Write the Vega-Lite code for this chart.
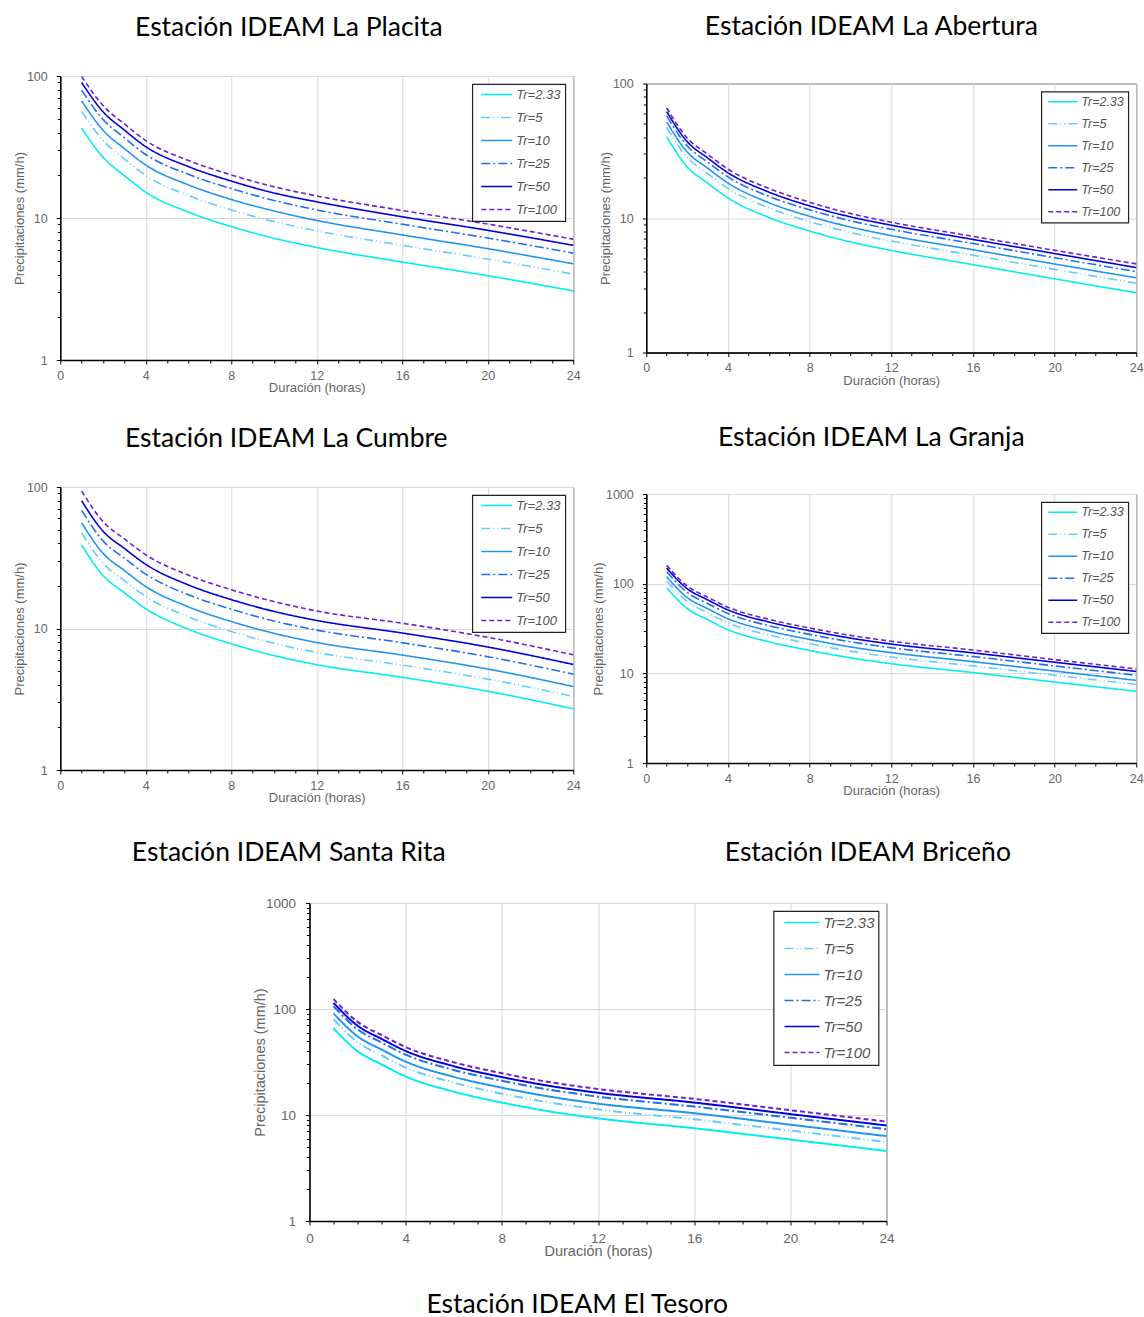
{
"$schema":"https://vega.github.io/schema/vega-lite/v6.json",
"background":"white",
"padding":{"left":12,"top":13,"right":0,"bottom":0},
"spacing":28,
"center":true,
"resolve":{"scale":{"color":"independent","strokeDash":"independent"},"legend":{"color":"independent","strokeDash":"independent"}},
"datasets":{
"p1":[
{"d":1,"t":"Tr=2.33","p":43},{"d":1,"t":"Tr=5","p":56.3},{"d":1,"t":"Tr=10","p":66.7},{"d":1,"t":"Tr=25","p":79.3},{"d":1,"t":"Tr=50","p":89.9},{"d":1,"t":"Tr=100","p":99.3},
{"d":2,"t":"Tr=2.33","p":26.8},{"d":2,"t":"Tr=5","p":35.1},{"d":2,"t":"Tr=10","p":41.5},{"d":2,"t":"Tr=25","p":49.4},{"d":2,"t":"Tr=50","p":56.0},{"d":2,"t":"Tr=100","p":61.9},
{"d":3,"t":"Tr=2.33","p":19.9},{"d":3,"t":"Tr=5","p":26.1},{"d":3,"t":"Tr=10","p":30.8},{"d":3,"t":"Tr=25","p":36.7},{"d":3,"t":"Tr=50","p":41.6},{"d":3,"t":"Tr=100","p":46.0},
{"d":4,"t":"Tr=2.33","p":15.2},{"d":4,"t":"Tr=5","p":19.9},{"d":4,"t":"Tr=10","p":23.6},{"d":4,"t":"Tr=25","p":28.0},{"d":4,"t":"Tr=50","p":31.8},{"d":4,"t":"Tr=100","p":35.1},
{"d":6,"t":"Tr=2.33","p":11.0},{"d":6,"t":"Tr=5","p":14.4},{"d":6,"t":"Tr=10","p":17.1},{"d":6,"t":"Tr=25","p":20.3},{"d":6,"t":"Tr=50","p":23.0},{"d":6,"t":"Tr=100","p":25.4},
{"d":8,"t":"Tr=2.33","p":8.7},{"d":8,"t":"Tr=5","p":11.4},{"d":8,"t":"Tr=10","p":13.5},{"d":8,"t":"Tr=25","p":16.1},{"d":8,"t":"Tr=50","p":18.2},{"d":8,"t":"Tr=100","p":20.1},
{"d":10,"t":"Tr=2.33","p":7.2},{"d":10,"t":"Tr=5","p":9.43},{"d":10,"t":"Tr=10","p":11.2},{"d":10,"t":"Tr=25","p":13.3},{"d":10,"t":"Tr=50","p":15.0},{"d":10,"t":"Tr=100","p":16.6},
{"d":12,"t":"Tr=2.33","p":6.2},{"d":12,"t":"Tr=5","p":8.12},{"d":12,"t":"Tr=10","p":9.61},{"d":12,"t":"Tr=25","p":11.4},{"d":12,"t":"Tr=50","p":13.0},{"d":12,"t":"Tr=100","p":14.3},
{"d":16,"t":"Tr=2.33","p":4.9},{"d":16,"t":"Tr=5","p":6.42},{"d":16,"t":"Tr=10","p":7.6},{"d":16,"t":"Tr=25","p":9.04},{"d":16,"t":"Tr=50","p":10.2},{"d":16,"t":"Tr=100","p":11.3},
{"d":20,"t":"Tr=2.33","p":3.92},{"d":20,"t":"Tr=5","p":5.14},{"d":20,"t":"Tr=10","p":6.08},{"d":20,"t":"Tr=25","p":7.23},{"d":20,"t":"Tr=50","p":8.19},{"d":20,"t":"Tr=100","p":9.06},
{"d":24,"t":"Tr=2.33","p":3.07},{"d":24,"t":"Tr=5","p":4.02},{"d":24,"t":"Tr=10","p":4.76},{"d":24,"t":"Tr=25","p":5.66},{"d":24,"t":"Tr=50","p":6.42},{"d":24,"t":"Tr=100","p":7.09}
],
"p2":[
{"d":1,"t":"Tr=2.33","p":40.1},{"d":1,"t":"Tr=5","p":47.1},{"d":1,"t":"Tr=10","p":51.7},{"d":1,"t":"Tr=25","p":57.5},{"d":1,"t":"Tr=50","p":61.8},{"d":1,"t":"Tr=100","p":65.8},
{"d":2,"t":"Tr=2.33","p":24.0},{"d":2,"t":"Tr=5","p":28.2},{"d":2,"t":"Tr=10","p":31.0},{"d":2,"t":"Tr=25","p":34.4},{"d":2,"t":"Tr=50","p":37.0},{"d":2,"t":"Tr=100","p":39.4},
{"d":3,"t":"Tr=2.33","p":18.2},{"d":3,"t":"Tr=5","p":21.4},{"d":3,"t":"Tr=10","p":23.5},{"d":3,"t":"Tr=25","p":26.1},{"d":3,"t":"Tr=50","p":28.0},{"d":3,"t":"Tr=100","p":29.8},
{"d":4,"t":"Tr=2.33","p":14.1},{"d":4,"t":"Tr=5","p":16.6},{"d":4,"t":"Tr=10","p":18.2},{"d":4,"t":"Tr=25","p":20.2},{"d":4,"t":"Tr=50","p":21.7},{"d":4,"t":"Tr=100","p":23.1},
{"d":6,"t":"Tr=2.33","p":10.1},{"d":6,"t":"Tr=5","p":11.9},{"d":6,"t":"Tr=10","p":13.0},{"d":6,"t":"Tr=25","p":14.5},{"d":6,"t":"Tr=50","p":15.6},{"d":6,"t":"Tr=100","p":16.6},
{"d":8,"t":"Tr=2.33","p":8.0},{"d":8,"t":"Tr=5","p":9.4},{"d":8,"t":"Tr=10","p":10.3},{"d":8,"t":"Tr=25","p":11.5},{"d":8,"t":"Tr=50","p":12.3},{"d":8,"t":"Tr=100","p":13.1},
{"d":10,"t":"Tr=2.33","p":6.64},{"d":10,"t":"Tr=5","p":7.8},{"d":10,"t":"Tr=10","p":8.57},{"d":10,"t":"Tr=25","p":9.53},{"d":10,"t":"Tr=50","p":10.2},{"d":10,"t":"Tr=100","p":10.8},
{"d":12,"t":"Tr=2.33","p":5.74},{"d":12,"t":"Tr=5","p":6.74},{"d":12,"t":"Tr=10","p":7.4},{"d":12,"t":"Tr=25","p":8.24},{"d":12,"t":"Tr=50","p":8.84},{"d":12,"t":"Tr=100","p":9.3},
{"d":16,"t":"Tr=2.33","p":4.5},{"d":16,"t":"Tr=5","p":5.29},{"d":16,"t":"Tr=10","p":5.81},{"d":16,"t":"Tr=25","p":6.46},{"d":16,"t":"Tr=50","p":6.93},{"d":16,"t":"Tr=100","p":7.3},
{"d":20,"t":"Tr=2.33","p":3.53},{"d":20,"t":"Tr=5","p":4.15},{"d":20,"t":"Tr=10","p":4.55},{"d":20,"t":"Tr=25","p":5.07},{"d":20,"t":"Tr=50","p":5.44},{"d":20,"t":"Tr=100","p":5.75},
{"d":24,"t":"Tr=2.33","p":2.78},{"d":24,"t":"Tr=5","p":3.27},{"d":24,"t":"Tr=10","p":3.59},{"d":24,"t":"Tr=25","p":3.99},{"d":24,"t":"Tr=50","p":4.28},{"d":24,"t":"Tr=100","p":4.56}
],
"p3":[
{"d":1,"t":"Tr=2.33","p":38.9},{"d":1,"t":"Tr=5","p":47.5},{"d":1,"t":"Tr=10","p":55.8},{"d":1,"t":"Tr=25","p":68.3},{"d":1,"t":"Tr=50","p":79.9},{"d":1,"t":"Tr=100","p":93.6},
{"d":2,"t":"Tr=2.33","p":23.7},{"d":2,"t":"Tr=5","p":28.9},{"d":2,"t":"Tr=10","p":34.0},{"d":2,"t":"Tr=25","p":41.6},{"d":2,"t":"Tr=50","p":48.7},{"d":2,"t":"Tr=100","p":57.0},
{"d":3,"t":"Tr=2.33","p":17.9},{"d":3,"t":"Tr=5","p":21.8},{"d":3,"t":"Tr=10","p":25.7},{"d":3,"t":"Tr=25","p":31.4},{"d":3,"t":"Tr=50","p":36.8},{"d":3,"t":"Tr=100","p":43.0},
{"d":4,"t":"Tr=2.33","p":13.8},{"d":4,"t":"Tr=5","p":16.8},{"d":4,"t":"Tr=10","p":19.8},{"d":4,"t":"Tr=25","p":24.2},{"d":4,"t":"Tr=50","p":28.4},{"d":4,"t":"Tr=100","p":33.2},
{"d":6,"t":"Tr=2.33","p":9.88},{"d":6,"t":"Tr=5","p":12.1},{"d":6,"t":"Tr=10","p":14.2},{"d":6,"t":"Tr=25","p":17.3},{"d":6,"t":"Tr=50","p":20.3},{"d":6,"t":"Tr=100","p":23.8},
{"d":8,"t":"Tr=2.33","p":7.8},{"d":8,"t":"Tr=5","p":9.52},{"d":8,"t":"Tr=10","p":11.2},{"d":8,"t":"Tr=25","p":13.7},{"d":8,"t":"Tr=50","p":16.0},{"d":8,"t":"Tr=100","p":18.8},
{"d":10,"t":"Tr=2.33","p":6.44},{"d":10,"t":"Tr=5","p":7.86},{"d":10,"t":"Tr=10","p":9.24},{"d":10,"t":"Tr=25","p":11.3},{"d":10,"t":"Tr=50","p":13.2},{"d":10,"t":"Tr=100","p":15.5},
{"d":12,"t":"Tr=2.33","p":5.55},{"d":12,"t":"Tr=5","p":6.77},{"d":12,"t":"Tr=10","p":7.96},{"d":12,"t":"Tr=25","p":9.74},{"d":12,"t":"Tr=50","p":11.4},{"d":12,"t":"Tr=100","p":13.3},
{"d":16,"t":"Tr=2.33","p":4.52},{"d":16,"t":"Tr=5","p":5.51},{"d":16,"t":"Tr=10","p":6.49},{"d":16,"t":"Tr=25","p":7.93},{"d":16,"t":"Tr=50","p":9.29},{"d":16,"t":"Tr=100","p":10.9},
{"d":20,"t":"Tr=2.33","p":3.6},{"d":20,"t":"Tr=5","p":4.39},{"d":20,"t":"Tr=10","p":5.17},{"d":20,"t":"Tr=25","p":6.32},{"d":20,"t":"Tr=50","p":7.4},{"d":20,"t":"Tr=100","p":8.66},
{"d":24,"t":"Tr=2.33","p":2.71},{"d":24,"t":"Tr=5","p":3.31},{"d":24,"t":"Tr=10","p":3.89},{"d":24,"t":"Tr=25","p":4.76},{"d":24,"t":"Tr=50","p":5.57},{"d":24,"t":"Tr=100","p":6.52}
],
"p4":[
{"d":1,"t":"Tr=2.33","p":90},{"d":1,"t":"Tr=5","p":107},{"d":1,"t":"Tr=10","p":119},{"d":1,"t":"Tr=25","p":136},{"d":1,"t":"Tr=50","p":149},{"d":1,"t":"Tr=100","p":160},
{"d":2,"t":"Tr=2.33","p":53},{"d":2,"t":"Tr=5","p":63.1},{"d":2,"t":"Tr=10","p":70.2},{"d":2,"t":"Tr=25","p":80.0},{"d":2,"t":"Tr=50","p":88.0},{"d":2,"t":"Tr=100","p":94.3},
{"d":3,"t":"Tr=2.33","p":39.8},{"d":3,"t":"Tr=5","p":47.4},{"d":3,"t":"Tr=10","p":52.7},{"d":3,"t":"Tr=25","p":60.1},{"d":3,"t":"Tr=50","p":66.1},{"d":3,"t":"Tr=100","p":70.8},
{"d":4,"t":"Tr=2.33","p":30.7},{"d":4,"t":"Tr=5","p":36.5},{"d":4,"t":"Tr=10","p":40.7},{"d":4,"t":"Tr=25","p":46.4},{"d":4,"t":"Tr=50","p":51.0},{"d":4,"t":"Tr=100","p":54.6},
{"d":6,"t":"Tr=2.33","p":22.5},{"d":6,"t":"Tr=5","p":26.8},{"d":6,"t":"Tr=10","p":29.8},{"d":6,"t":"Tr=25","p":34.0},{"d":6,"t":"Tr=50","p":37.4},{"d":6,"t":"Tr=100","p":40.1},
{"d":8,"t":"Tr=2.33","p":18.0},{"d":8,"t":"Tr=5","p":21.4},{"d":8,"t":"Tr=10","p":23.9},{"d":8,"t":"Tr=25","p":27.2},{"d":8,"t":"Tr=50","p":29.9},{"d":8,"t":"Tr=100","p":32.0},
{"d":10,"t":"Tr=2.33","p":14.9},{"d":10,"t":"Tr=5","p":17.7},{"d":10,"t":"Tr=10","p":19.7},{"d":10,"t":"Tr=25","p":22.5},{"d":10,"t":"Tr=50","p":24.7},{"d":10,"t":"Tr=100","p":26.5},
{"d":12,"t":"Tr=2.33","p":12.8},{"d":12,"t":"Tr=5","p":15.2},{"d":12,"t":"Tr=10","p":17.0},{"d":12,"t":"Tr=25","p":19.3},{"d":12,"t":"Tr=50","p":21.2},{"d":12,"t":"Tr=100","p":22.8},
{"d":16,"t":"Tr=2.33","p":10.2},{"d":16,"t":"Tr=5","p":12.1},{"d":16,"t":"Tr=10","p":13.5},{"d":16,"t":"Tr=25","p":15.4},{"d":16,"t":"Tr=50","p":16.9},{"d":16,"t":"Tr=100","p":18.2},
{"d":20,"t":"Tr=2.33","p":8.0},{"d":20,"t":"Tr=5","p":9.52},{"d":20,"t":"Tr=10","p":10.6},{"d":20,"t":"Tr=25","p":12.1},{"d":20,"t":"Tr=50","p":13.3},{"d":20,"t":"Tr=100","p":14.2},
{"d":24,"t":"Tr=2.33","p":6.3},{"d":24,"t":"Tr=5","p":7.5},{"d":24,"t":"Tr=10","p":8.35},{"d":24,"t":"Tr=25","p":9.51},{"d":24,"t":"Tr=50","p":10.5},{"d":24,"t":"Tr=100","p":11.2}
],
"p5":[
{"d":1,"t":"Tr=2.33","p":65.8},{"d":1,"t":"Tr=5","p":79.9},{"d":1,"t":"Tr=10","p":90.8},{"d":1,"t":"Tr=25","p":106},{"d":1,"t":"Tr=50","p":114},{"d":1,"t":"Tr=100","p":124},
{"d":2,"t":"Tr=2.33","p":40},{"d":2,"t":"Tr=5","p":48.6},{"d":2,"t":"Tr=10","p":55.2},{"d":2,"t":"Tr=25","p":64.2},{"d":2,"t":"Tr=50","p":69.6},{"d":2,"t":"Tr=100","p":75.6},
{"d":3,"t":"Tr=2.33","p":30.0},{"d":3,"t":"Tr=5","p":36.5},{"d":3,"t":"Tr=10","p":41.4},{"d":3,"t":"Tr=25","p":48.2},{"d":3,"t":"Tr=50","p":52.2},{"d":3,"t":"Tr=100","p":56.7},
{"d":4,"t":"Tr=2.33","p":23.1},{"d":4,"t":"Tr=5","p":28.1},{"d":4,"t":"Tr=10","p":31.9},{"d":4,"t":"Tr=25","p":37.1},{"d":4,"t":"Tr=50","p":40.2},{"d":4,"t":"Tr=100","p":43.7},
{"d":6,"t":"Tr=2.33","p":16.6},{"d":6,"t":"Tr=5","p":20.2},{"d":6,"t":"Tr=10","p":22.9},{"d":6,"t":"Tr=25","p":26.6},{"d":6,"t":"Tr=50","p":28.9},{"d":6,"t":"Tr=100","p":31.4},
{"d":8,"t":"Tr=2.33","p":13.1},{"d":8,"t":"Tr=5","p":15.9},{"d":8,"t":"Tr=10","p":18.1},{"d":8,"t":"Tr=25","p":21.0},{"d":8,"t":"Tr=50","p":22.8},{"d":8,"t":"Tr=100","p":24.8},
{"d":10,"t":"Tr=2.33","p":10.8},{"d":10,"t":"Tr=5","p":13.1},{"d":10,"t":"Tr=10","p":14.9},{"d":10,"t":"Tr=25","p":17.3},{"d":10,"t":"Tr=50","p":18.8},{"d":10,"t":"Tr=100","p":20.4},
{"d":12,"t":"Tr=2.33","p":9.3},{"d":12,"t":"Tr=5","p":11.3},{"d":12,"t":"Tr=10","p":12.8},{"d":12,"t":"Tr=25","p":14.9},{"d":12,"t":"Tr=50","p":16.2},{"d":12,"t":"Tr=100","p":17.6},
{"d":16,"t":"Tr=2.33","p":7.5},{"d":16,"t":"Tr=5","p":9.11},{"d":16,"t":"Tr=10","p":10.4},{"d":16,"t":"Tr=25","p":12.0},{"d":16,"t":"Tr=50","p":13.1},{"d":16,"t":"Tr=100","p":14.2},
{"d":20,"t":"Tr=2.33","p":5.87},{"d":20,"t":"Tr=5","p":7.13},{"d":20,"t":"Tr=10","p":8.1},{"d":20,"t":"Tr=25","p":9.42},{"d":20,"t":"Tr=50","p":10.2},{"d":20,"t":"Tr=100","p":11.1},
{"d":24,"t":"Tr=2.33","p":4.58},{"d":24,"t":"Tr=5","p":5.56},{"d":24,"t":"Tr=10","p":6.32},{"d":24,"t":"Tr=25","p":7.35},{"d":24,"t":"Tr=50","p":7.97},{"d":24,"t":"Tr=100","p":8.66}
]
},
"vconcat":[
{"hconcat":[
  {"data":{"name":"p1"},"width":513,"height":284,
   "title":{"text":"Estación IDEAM La Placita","offset":29,"dx":-8},
   "layer":[
    {"mark":{"type":"line"},
     "encoding":{
      "x":{"field":"d","type":"quantitative","scale":{"domain":[0,24],"nice":false,"zero":false},
       "axis":{"title":"Duración (horas)","values":[0,1,2,3,4,5,6,7,8,9,10,11,12,13,14,15,16,17,18,19,20,21,22,23,24],"labelExpr":"datum.value % 4 == 0 ? datum.label : ''","tickSize":{"condition":{"test":"datum.value % 4 == 0","value":4},"value":3},"gridColor":{"condition":{"test":"datum.value % 4 == 0","value":"#d9d9d9"},"value":"rgba(0,0,0,0)"}}},
      "y":{"field":"p","type":"quantitative","scale":{"type":"log","domain":[1,100],"nice":false},
       "axis":{"title":"Precipitaciones (mm/h)","values":[1,2,3,4,5,6,7,8,9,10,20,30,40,50,60,70,80,90,100],"labelExpr":"(datum.value == 1 || datum.value == 10 || datum.value == 100) ? '' + datum.value : ''","tickSize":{"condition":{"test":"datum.value == 1 || datum.value == 10 || datum.value == 100","value":4},"value":3},"gridColor":{"condition":{"test":"datum.value == 10 || datum.value == 100","value":"#d9d9d9"},"value":"rgba(0,0,0,0)"}}},
      "color":{"field":"t","type":"nominal","scale":{"domain":["Tr=2.33","Tr=5","Tr=10","Tr=25","Tr=50","Tr=100"],"range":["#00EEEE","#66CCFF","#1E96F0","#1F6FEF","#0000DD","#7020D0"]},"legend":{"title":null}},
      "strokeDash":{"field":"t","type":"nominal","scale":{"domain":["Tr=2.33","Tr=5","Tr=10","Tr=25","Tr=50","Tr=100"],"range":[[1,0],[9,3,1,3,1,3],[1,0],[9,3,2,3],[1,0],[5,3]]},"legend":{"title":null}}
     }},
    {"mark":{"type":"rule","opacity":0},
     "encoding":{"x":{"datum":0,"type":"quantitative","axis":{"orient":"bottom","title":"Estación IDEAM La Cumbre","offset":65,"domain":false,"ticks":false,"labels":false,"grid":false,"titleFont":"Lato","titleFontSize":26.5,"titleFontWeight":"normal","titleColor":"#000","titleX":225.5,"titlePadding":0}}}}
   ],
   "resolve":{"axis":{"x":"independent"}}},
  {"data":{"name":"p2"},"width":490,"height":269,
   "title":{"text":"Estación IDEAM La Abertura","offset":37},
   "layer":[
    {"mark":{"type":"line"},
     "encoding":{
      "x":{"field":"d","type":"quantitative","scale":{"domain":[0,24],"nice":false,"zero":false},
       "axis":{"title":"Duración (horas)","values":[0,1,2,3,4,5,6,7,8,9,10,11,12,13,14,15,16,17,18,19,20,21,22,23,24],"labelExpr":"datum.value % 4 == 0 ? datum.label : ''","tickSize":{"condition":{"test":"datum.value % 4 == 0","value":4},"value":3},"gridColor":{"condition":{"test":"datum.value % 4 == 0","value":"#d9d9d9"},"value":"rgba(0,0,0,0)"}}},
      "y":{"field":"p","type":"quantitative","scale":{"type":"log","domain":[1,100],"nice":false},
       "axis":{"title":"Precipitaciones (mm/h)","values":[1,2,3,4,5,6,7,8,9,10,20,30,40,50,60,70,80,90,100],"labelExpr":"(datum.value == 1 || datum.value == 10 || datum.value == 100) ? '' + datum.value : ''","tickSize":{"condition":{"test":"datum.value == 1 || datum.value == 10 || datum.value == 100","value":4},"value":3},"gridColor":{"condition":{"test":"datum.value == 10 || datum.value == 100","value":"#d9d9d9"},"value":"rgba(0,0,0,0)"}}},
      "color":{"field":"t","type":"nominal","scale":{"domain":["Tr=2.33","Tr=5","Tr=10","Tr=25","Tr=50","Tr=100"],"range":["#00EEEE","#66CCFF","#1E96F0","#1F6FEF","#0000DD","#7020D0"]},"legend":{"title":null,"labelFontSize":12.5,"clipHeight":12.5,"rowPadding":9,"symbolSize":841,"symbolOffset":2}},
      "strokeDash":{"field":"t","type":"nominal","scale":{"domain":["Tr=2.33","Tr=5","Tr=10","Tr=25","Tr=50","Tr=100"],"range":[[1,0],[9,3,1,3,1,3],[1,0],[9,3,2,3],[1,0],[5,3]]},"legend":{"title":null,"labelFontSize":12.5,"clipHeight":12.5,"rowPadding":9,"symbolSize":841,"symbolOffset":2}}
     }},
    {"mark":{"type":"rule","opacity":0},
     "encoding":{"x":{"datum":0,"type":"quantitative","axis":{"orient":"bottom","title":"Estación IDEAM La Granja","offset":72,"domain":false,"ticks":false,"labels":false,"grid":false,"titleFont":"Lato","titleFontSize":26.5,"titleFontWeight":"normal","titleColor":"#000","titleX":224.5,"titlePadding":0}}}}
   ],
   "resolve":{"axis":{"x":"independent"}}}
],"spacing":73,"bounds":"flush","center":true,
"resolve":{"scale":{"color":"independent","strokeDash":"independent"},"legend":{"color":"independent","strokeDash":"independent"}}},
{"hconcat":[
  {"data":{"name":"p3"},"width":513,"height":283,
   "title":{"text":"Estación IDEAM Santa Rita","orient":"bottom","offset":35,"dx":-8},
   "mark":{"type":"line"},
   "encoding":{
    "x":{"field":"d","type":"quantitative","scale":{"domain":[0,24],"nice":false,"zero":false},
     "axis":{"title":"Duración (horas)","values":[0,1,2,3,4,5,6,7,8,9,10,11,12,13,14,15,16,17,18,19,20,21,22,23,24],"labelExpr":"datum.value % 4 == 0 ? datum.label : ''","tickSize":{"condition":{"test":"datum.value % 4 == 0","value":4},"value":3},"gridColor":{"condition":{"test":"datum.value % 4 == 0","value":"#d9d9d9"},"value":"rgba(0,0,0,0)"}}},
    "y":{"field":"p","type":"quantitative","scale":{"type":"log","domain":[1,100],"nice":false},
     "axis":{"title":"Precipitaciones (mm/h)","values":[1,2,3,4,5,6,7,8,9,10,20,30,40,50,60,70,80,90,100],"labelExpr":"(datum.value == 1 || datum.value == 10 || datum.value == 100) ? '' + datum.value : ''","tickSize":{"condition":{"test":"datum.value == 1 || datum.value == 10 || datum.value == 100","value":4},"value":3},"gridColor":{"condition":{"test":"datum.value == 10 || datum.value == 100","value":"#d9d9d9"},"value":"rgba(0,0,0,0)"}}},
    "color":{"field":"t","type":"nominal","scale":{"domain":["Tr=2.33","Tr=5","Tr=10","Tr=25","Tr=50","Tr=100"],"range":["#00EEEE","#66CCFF","#1E96F0","#1F6FEF","#0000DD","#7020D0"]},"legend":{"title":null}},
    "strokeDash":{"field":"t","type":"nominal","scale":{"domain":["Tr=2.33","Tr=5","Tr=10","Tr=25","Tr=50","Tr=100"],"range":[[1,0],[9,3,1,3,1,3],[1,0],[9,3,2,3],[1,0],[5,3]]},"legend":{"title":null}}
   }},
  {"data":{"name":"p4"},"width":490,"height":269,
   "title":{"text":"Estación IDEAM Briceño","orient":"bottom","offset":42},
   "mark":{"type":"line"},
   "encoding":{
    "x":{"field":"d","type":"quantitative","scale":{"domain":[0,24],"nice":false,"zero":false},
     "axis":{"title":"Duración (horas)","values":[0,1,2,3,4,5,6,7,8,9,10,11,12,13,14,15,16,17,18,19,20,21,22,23,24],"labelExpr":"datum.value % 4 == 0 ? datum.label : ''","tickSize":{"condition":{"test":"datum.value % 4 == 0","value":4},"value":3},"gridColor":{"condition":{"test":"datum.value % 4 == 0","value":"#d9d9d9"},"value":"rgba(0,0,0,0)"}}},
    "y":{"field":"p","type":"quantitative","scale":{"type":"log","domain":[1,1000],"nice":false},
     "axis":{"title":"Precipitaciones (mm/h)","values":[1,2,3,4,5,6,7,8,9,10,20,30,40,50,60,70,80,90,100,200,300,400,500,600,700,800,900,1000],"labelExpr":"(datum.value == 1 || datum.value == 10 || datum.value == 100 || datum.value == 1000) ? '' + datum.value : ''","tickSize":{"condition":{"test":"datum.value == 1 || datum.value == 10 || datum.value == 100 || datum.value == 1000","value":4},"value":3},"gridColor":{"condition":{"test":"datum.value == 10 || datum.value == 100 || datum.value == 1000","value":"#d9d9d9"},"value":"rgba(0,0,0,0)"}}},
    "color":{"field":"t","type":"nominal","scale":{"domain":["Tr=2.33","Tr=5","Tr=10","Tr=25","Tr=50","Tr=100"],"range":["#00EEEE","#66CCFF","#1E96F0","#1F6FEF","#0000DD","#7020D0"]},"legend":{"title":null,"labelFontSize":12.5,"clipHeight":12.5,"rowPadding":9,"symbolSize":841,"symbolOffset":2}},
    "strokeDash":{"field":"t","type":"nominal","scale":{"domain":["Tr=2.33","Tr=5","Tr=10","Tr=25","Tr=50","Tr=100"],"range":[[1,0],[9,3,1,3,1,3],[1,0],[9,3,2,3],[1,0],[5,3]]},"legend":{"title":null,"labelFontSize":12.5,"clipHeight":12.5,"rowPadding":9,"symbolSize":841,"symbolOffset":2}}
   }}
],"spacing":73,"bounds":"flush","center":true,
"resolve":{"scale":{"color":"independent","strokeDash":"independent"},"legend":{"color":"independent","strokeDash":"independent"}}},
{"data":{"name":"p5"},"width":577,"height":318,
 "title":{"text":"Estación IDEAM El Tesoro","orient":"bottom","offset":34,"dx":4},
 "mark":{"type":"line","strokeWidth":2},
 "encoding":{
  "x":{"field":"d","type":"quantitative","scale":{"domain":[0,24],"nice":false,"zero":false},
   "axis":{"title":"Duración (horas)","labelFontSize":13.5,"titleFontSize":14.5,"labelPadding":6,"values":[0,1,2,3,4,5,6,7,8,9,10,11,12,13,14,15,16,17,18,19,20,21,22,23,24],"labelExpr":"datum.value % 4 == 0 ? datum.label : ''","tickSize":{"condition":{"test":"datum.value % 4 == 0","value":4},"value":3},"gridColor":{"condition":{"test":"datum.value % 4 == 0","value":"#d9d9d9"},"value":"rgba(0,0,0,0)"}}},
  "y":{"field":"p","type":"quantitative","scale":{"type":"log","domain":[1,1000],"nice":false},
   "axis":{"title":"Precipitaciones (mm/h)","labelFontSize":13.5,"titleFontSize":14.5,"labelPadding":10,"titlePadding":-2,"values":[1,2,3,4,5,6,7,8,9,10,20,30,40,50,60,70,80,90,100,200,300,400,500,600,700,800,900,1000],"labelExpr":"(datum.value == 1 || datum.value == 10 || datum.value == 100 || datum.value == 1000) ? '' + datum.value : ''","tickSize":{"condition":{"test":"datum.value == 1 || datum.value == 10 || datum.value == 100 || datum.value == 1000","value":4},"value":3},"gridColor":{"condition":{"test":"datum.value == 10 || datum.value == 100 || datum.value == 1000","value":"#d9d9d9"},"value":"rgba(0,0,0,0)"}}},
  "color":{"field":"t","type":"nominal","scale":{"domain":["Tr=2.33","Tr=5","Tr=10","Tr=25","Tr=50","Tr=100"],"range":["#00EEEE","#66CCFF","#1E96F0","#1F6FEF","#0000DD","#7020D0"]},"legend":{"title":null,"labelFontSize":15,"clipHeight":15,"rowPadding":10,"symbolSize":1225,"symbolOffset":6,"symbolStrokeWidth":2.2}},
  "strokeDash":{"field":"t","type":"nominal","scale":{"domain":["Tr=2.33","Tr=5","Tr=10","Tr=25","Tr=50","Tr=100"],"range":[[1,0],[9,3,1,3,1,3],[1,0],[9,3,2,3],[1,0],[5,3]]},"legend":{"title":null,"labelFontSize":15,"clipHeight":15,"rowPadding":10,"symbolSize":1225,"symbolOffset":6,"symbolStrokeWidth":2.2}}
 }}
],
"config":{
 "view":{"stroke":"#444","strokeWidth":1},
 "line":{"strokeWidth":1.6,"interpolate":"monotone","clip":true},
 "title":{"font":"Lato","fontSize":26.5,"fontWeight":"normal","color":"#000","frame":"bounds","anchor":"middle"},
 "axis":{"labelFont":"Liberation Sans","labelFontSize":12.5,"labelColor":"#666","titleFont":"Liberation Sans","titleFontSize":13,"titleFontWeight":"normal","titleColor":"#666","domainColor":"#000","domainWidth":1.5,"tickColor":"#000","gridWidth":1,"labelOverlap":false,"labelBound":false,"labelFlush":false,"titlePadding":0},
 "axisX":{"labelPadding":5},
 "axisY":{"labelPadding":9,"titlePadding":0},
 "legend":{"orient":"top-right","offset":8,"strokeColor":"#222","strokeWidth":1.2,"fillColor":"white","padding":4,"symbolType":"stroke","symbolSize":961,"symbolStrokeWidth":2,"symbolOffset":4,"clipHeight":13,"rowPadding":9,"labelFont":"Liberation Sans","labelFontSize":13,"labelFontStyle":"italic","labelColor":"#555","labelOffset":3}
}
}
